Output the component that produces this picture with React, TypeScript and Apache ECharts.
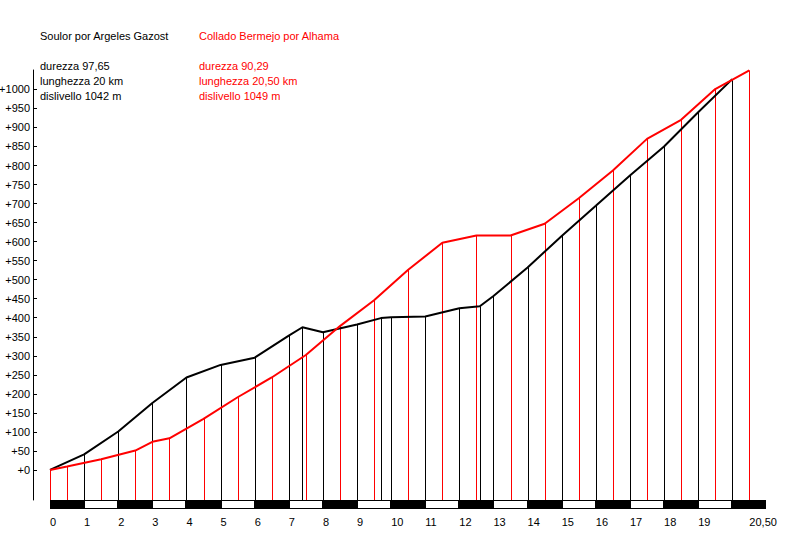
import React, { useEffect, useRef } from "react";
import * as echarts from "echarts";

const soulorKm = [0, 1, 2, 3, 4, 5, 6, 7, 7.4, 8, 9, 9.7, 10, 11, 12, 12.6, 13, 14, 15, 16, 17, 18, 19, 20];
const soulorAlt = [0, 41, 101, 176, 243, 276, 295, 353, 375, 362, 382, 399, 401, 403, 425, 430, 457, 532, 615, 694, 774, 850, 940, 1027];
const bermejoKm = [0, 0.5, 1.5, 2.5, 3, 3.5, 4.5, 5.5, 6.5, 7.5, 8.5, 9.5, 10.5, 11.5, 12.5, 13.5, 14.5, 15.5, 16.5, 17.5, 18.5, 19.5, 20.5];
const bermejoAlt = [0, 9, 28, 51, 74, 83, 134, 191, 243, 302, 378, 446, 526, 597, 616, 616, 647, 714, 787, 870, 920, 1001, 1050];

const xTickLabels = [0, 1, 2, 3, 4, 5, 6, 7, 8, 9, 10, 11, 12, 13, 14, 15, 16, 17, 18, 19, 20.5];
const yTickValues = [0, 50, 100, 150, 200, 250, 300, 350, 400, 450, 500, 550, 600, 650, 700, 750, 800, 850, 900, 950, 1000];
const trackKm = [0, 1, 2, 3, 4, 5, 6, 7, 8, 9, 10, 11, 12, 13, 14, 15, 16, 17, 18, 19, 20];

const soulorTitle = "Soulor por Argeles Gazost";
const soulorStats = ["durezza 97,65", "lunghezza 20 km", "dislivello 1042 m"];
const bermejoTitle = "Collado Bermejo por Alhama";
const bermejoStats = ["durezza 90,29", "lunghezza 20,50 km", "dislivello 1049 m"];

const Y_MIN = -79;
const Y_MAX = 1051;
const FONT = "11px 'Liberation Sans', Arial, sans-serif";

function dropSeries(km: number[], alt: number[], color: string) {
  return {
    type: "custom",
    z: color === "#ff0000" ? 3 : 2,
    data: km.map((k, i) => [k, alt[i]]),
    renderItem: (params: any, api: any) => {
      const top = api.coord([api.value(0), api.value(1)]);
      const bot = api.coord([api.value(0), Y_MIN]);
      const x = Math.round(top[0]) + 0.5;
      return {
        type: "line",
        shape: { x1: x, y1: top[1], x2: x, y2: bot[1] },
        style: { stroke: color, lineWidth: 1 },
      };
    },
  };
}

export default function App() {
  const ref = useRef<HTMLDivElement>(null);
  useEffect(() => {
    document.body.style.margin = "0";
    const chart = echarts.init(ref.current!, null, { renderer: "svg" });
    const graphics: any[] = [];
    graphics.push({ type: "text", left: 40, top: 30, style: { text: soulorTitle, fill: "#000", font: FONT } });
    graphics.push({ type: "text", left: 199, top: 30, style: { text: bermejoTitle, fill: "#ff0000", font: FONT } });
    soulorStats.forEach((t, i) => {
      graphics.push({ type: "text", left: 40, top: 60 + i * 15.3, style: { text: t, fill: "#000", font: FONT } });
    });
    bermejoStats.forEach((t, i) => {
      graphics.push({ type: "text", left: 199, top: 60 + i * 15.3, style: { text: t, fill: "#ff0000", font: FONT } });
    });

    chart.setOption({
      animation: false,
      backgroundColor: "#ffffff",
      textStyle: { fontFamily: "'Liberation Sans', Arial, sans-serif" },
      grid: { left: 50, top: 70, width: 716.4, height: 430, outerBoundsMode: "none", containLabel: false },
      graphic: graphics,
      xAxis: {
        type: "value",
        min: 0,
        max: 21,
        axisLine: { show: false, onZero: false },
        axisTick: { show: false },
        splitLine: { show: false },
        axisLabel: {
          customValues: xTickLabels,
          margin: 16,
          fontSize: 11,
          color: "#000",
          align: "left",
          formatter: (v: number) => String(v).replace(".", ",") + (v % 1 ? "0" : ""),
        },
      },
      yAxis: {
        type: "value",
        min: Y_MIN,
        max: Y_MAX,
        offset: 17,
        axisLine: { show: true, onZero: false, lineStyle: { color: "#000", width: 1 } },
        axisTick: { show: true, inside: true, length: 4, customValues: yTickValues, lineStyle: { color: "#000" } },
        splitLine: { show: false },
        axisLabel: {
          customValues: yTickValues,
          margin: 3,
          fontSize: 11,
          color: "#000",
          formatter: (v: number) => "+" + v,
        },
      },
      series: [
        {
          type: "custom",
          z: 1,
          data: trackKm.map((k) => [k, k + 1]),
          renderItem: (params: any, api: any) => {
            const a = api.coord([api.value(0), Y_MIN]);
            const b = api.coord([api.value(1), Y_MIN]);
            const x0 = Math.round(a[0]);
            const x1 = Math.round(b[0]);
            const y0 = Math.round(a[1]);
            const children: any[] = [
              { type: "rect", shape: { x: x0, y: y0, width: x1 - x0, height: 9 }, style: { fill: "#000" } },
            ];
            if (api.value(0) % 2 === 1) {
              children.push({
                type: "rect",
                shape: { x: x0 + 1, y: y0 + 1, width: x1 - x0 - 2, height: 7 },
                style: { fill: "#fff" },
              });
            }
            return { type: "group", children };
          },
        },
        dropSeries(soulorKm, soulorAlt, "#000000"),
        dropSeries(bermejoKm, bermejoAlt, "#ff0000"),
        {
          type: "line",
          z: 4,
          data: soulorKm.map((k, i) => [k, soulorAlt[i]]),
          showSymbol: false,
          lineStyle: { color: "#000", width: 2 },
        },
        {
          type: "line",
          z: 5,
          data: bermejoKm.map((k, i) => [k, bermejoAlt[i]]),
          showSymbol: false,
          lineStyle: { color: "#ff0000", width: 2 },
        },
      ],
    });
    return () => chart.dispose();
  }, []);
  return <div ref={ref} style={{ width: 800, height: 560 }} />;
}
